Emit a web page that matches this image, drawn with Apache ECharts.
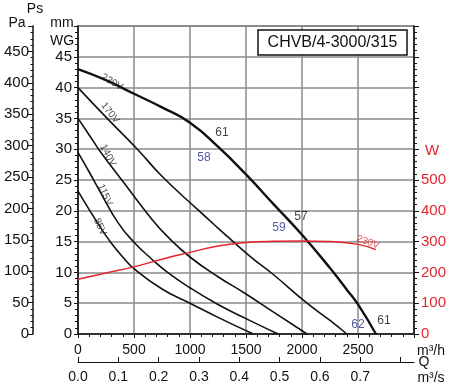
<!DOCTYPE html>
<html>
<head>
<meta charset="utf-8">
<script src="https://cdn.jsdelivr.net/npm/echarts@6/dist/echarts.min.js"></script>
<style>html,body{margin:0;padding:0;background:#fff}#c{width:450px;height:389px}</style>
</head>
<body>
<div id="c"></div>
<script>
// ---- data (flow in m3/h, static pressure in mm WG, power in W) ----
const flow230 = [0, 250, 500, 750, 1000, 1250, 1500, 1750, 2000, 2250, 2400, 2500, 2660];
const ps230   = [43, 41.2, 39, 36.8, 34.3, 30.4, 25.9, 21, 16.1, 10.7, 7.2, 4.8, 0];
const flow170 = [0, 250, 530, 750, 1062, 1250, 1536, 1741, 2045, 2250, 2400];
const ps170   = [40, 35.2, 30, 25.6, 20.3, 17.2, 12.6, 9.7, 5, 2.2, 0];
const flow140 = [0, 100, 200, 420, 661, 800, 1000, 1250, 1500, 1750, 2045];
const ps140   = [35, 32.3, 29.6, 24.3, 18.6, 15.8, 12.5, 9.3, 6.5, 3.5, 0];
const flow115 = [0, 100, 200, 360, 500, 650, 800, 1000, 1250, 1500, 1786];
const ps115   = [29.5, 26.3, 23, 18, 14.9, 12.3, 10, 7.5, 4.8, 2.5, 0];
const flow85  = [0, 100, 200, 300, 400, 500, 750, 1000, 1250, 1565];
const ps85    = [23.2, 20.2, 17.3, 14.7, 12.5, 10.6, 7.3, 5, 2.7, 0];
const flowPow = [0, 250, 500, 750, 1000, 1250, 1500, 1750, 2000, 2250, 2500, 2660];
const power   = [178, 198, 218, 243, 265, 286, 297, 301, 302, 300, 291, 274];

const flowTicks = [0, 500, 1000, 1500, 2000, 2500];
const voltLabels = ['230V', '170V', '140V', '115V', '85V'];
const noiseLabels = ['61', '58', '57', '59', '62', '61'];
const title = 'CHVB/4-3000/315';

// ---- chart ----
const FONT = '"Liberation Sans", Arial, sans-serif';
const zip = (a, b) => a.map((v, i) => [v, b[i]]);
const chart = echarts.init(document.getElementById('c'), null, {renderer: 'canvas'});

const G = {left: 78, right: 36, top: 26, bottom: 55};
const black = '#111';
const blue = '#2b2f8c';
const red = '#e3262e';

function ann(text, x, y, color, size, rot) {
  return {value: [x, y], name: text,
    label: {show: true, formatter: text, color: color, fontSize: size, fontFamily: FONT,
      rotate: rot || 0, position: 'inside'}};
}
function curve(data, width, color, yIdx) {
  return {type: 'line', yAxisIndex: yIdx || 0, data: data, smooth: 0.5,
    symbol: 'none', lineStyle: {color: color || black, width: width}};
}

const option = {
  animation: false,
  grid: {left: G.left, right: G.right, top: G.top, bottom: G.bottom, show: true,
    borderColor: '#222', borderWidth: 1.2, backgroundColor: 'transparent'},
  xAxis: [
    {type: 'value', min: 0, max: 3000, interval: 500, position: 'bottom',
      axisLine: {show: true, onZero: false, lineStyle: {color: black, width: 1.5}},
      axisTick: {show: true, length: 4, lineStyle: {color: black}},
      minorTick: {show: true, splitNumber: 5, length: 3, lineStyle: {color: black}},
      splitLine: {show: true, lineStyle: {color: '#8a8a8a', width: 1.5}},
      axisLabel: {color: black, fontSize: 14, fontFamily: FONT, margin: 9, showMaxLabel: false,
        formatter: v => flowTicks.includes(v) ? String(v) : ''}},
    {type: 'value', min: 0, max: 3000 / 3600, interval: 0.1, position: 'bottom', offset: 28,
      axisLine: {show: true, onZero: false, lineStyle: {color: black, width: 1.2}},
      axisTick: {show: true, inside: true, length: 5, lineStyle: {color: black}},
      splitLine: {show: false},
      axisLabel: {color: black, fontSize: 14, fontFamily: FONT, margin: 8, showMaxLabel: false,
        formatter: v => v < 0.75 ? v.toFixed(1) : ''}}
  ],
  yAxis: [
    {type: 'value', min: 0, max: 50, interval: 5, position: 'left',
      axisLine: {show: true, onZero: false, lineStyle: {color: black, width: 1.5}},
      axisTick: {show: true, length: 4, lineStyle: {color: black}},
      minorTick: {show: true, splitNumber: 5, length: 3, lineStyle: {color: black}},
      splitLine: {show: true, lineStyle: {color: '#8a8a8a', width: 1.5}},
      axisLabel: {color: black, fontSize: 15, fontFamily: FONT, margin: 6, showMaxLabel: false}},
    {type: 'value', min: 0, max: 490.5, interval: 50, position: 'left', offset: 45,
      axisLine: {show: true, onZero: false, lineStyle: {color: black, width: 1.5}},
      axisTick: {show: true, length: 5, lineStyle: {color: black}},
      minorTick: {show: true, splitNumber: 5, length: 2.5, lineStyle: {color: black}},
      splitLine: {show: false},
      axisLabel: {color: black, fontSize: 15, fontFamily: FONT, margin: 4, showMaxLabel: false}},
    {type: 'value', min: 0, max: 1000, interval: 100, position: 'right',
      axisLine: {show: true, onZero: false, lineStyle: {color: black, width: 1.5}},
      axisTick: {show: true, length: 5, lineStyle: {color: black}},
      minorTick: {show: true, splitNumber: 5, length: 3, lineStyle: {color: black}},
      splitLine: {show: false},
      axisLabel: {color: red, fontSize: 15, fontFamily: FONT, margin: 7,
        formatter: v => v <= 500 ? String(v) : ''}}
  ],
  series: [
    curve(zip(flow230, ps230), 2.4),
    curve(zip(flow170, ps170), 1.6),
    curve(zip(flow140, ps140), 1.6),
    curve(zip(flow115, ps115), 1.6),
    curve(zip(flow85, ps85), 1.6),
    curve(zip(flowPow, power), 1.5, red, 2),
    {type: 'scatter', symbolSize: 0, silent: true, z: 5,
      data: [
        ann(voltLabels[0], 304, 40.9, '#222', 10, -30),
        ann(voltLabels[1], 286, 35.9, '#222', 10, -52),
        ann(voltLabels[2], 268, 29.0, '#222', 10, -62),
        ann(voltLabels[3], 241, 22.6, '#222', 10, -65),
        ann(voltLabels[4], 196, 17.4, '#222', 10, -65),
        ann(noiseLabels[0], 1286, 32.6, black, 12),
        ann(noiseLabels[1], 1125, 28.7, blue, 12),
        ann(noiseLabels[2], 1991, 19.0, black, 12),
        ann(noiseLabels[3], 1795, 17.2, blue, 12),
        ann(noiseLabels[4], 2500, 1.5, blue, 12),
        ann(noiseLabels[5], 2732, 2.1, black, 12)
      ]},
    {type: 'scatter', symbolSize: 0, silent: true, z: 5, yAxisIndex: 2,
      data: [ann(voltLabels[0], 2589, 298, red, 10, -20)]}
  ],
  graphic: [
    {type: 'rect', shape: {x: 258, y: 30, width: 149, height: 25},
      style: {fill: '#fff', stroke: '#111', lineWidth: 1.5}, z: 10},
    {type: 'text', x: 332.5, y: 42.5, z: 11,
      style: {text: title, fill: '#111', font: '16px ' + FONT, align: 'center', verticalAlign: 'middle'}},
    {type: 'text', x: 17, y: 23, style: {text: 'Pa', fill: black, font: '14px ' + FONT, align: 'center', verticalAlign: 'middle'}},
    {type: 'text', x: 35, y: 9, style: {text: 'Ps', fill: black, font: '14px ' + FONT, align: 'center', verticalAlign: 'middle'}},
    {type: 'text', x: 62, y: 23, style: {text: 'mm', fill: black, font: '14px ' + FONT, align: 'center', verticalAlign: 'middle'}},
    {type: 'text', x: 62, y: 41, style: {text: 'WG', fill: black, font: '14px ' + FONT, align: 'center', verticalAlign: 'middle'}},
    {type: 'text', x: 432, y: 151, style: {text: 'W', fill: red, font: '15px ' + FONT, align: 'center', verticalAlign: 'middle'}},
    {type: 'text', x: 431, y: 351, style: {text: 'm³/h', fill: black, font: '14px ' + FONT, align: 'center', verticalAlign: 'middle'}},
    {type: 'text', x: 424, y: 362, style: {text: 'Q', fill: black, font: '14px ' + FONT, align: 'center', verticalAlign: 'middle'}},
    {type: 'text', x: 431, y: 378, style: {text: 'm³/s', fill: black, font: '14px ' + FONT, align: 'center', verticalAlign: 'middle'}}
  ]
};
chart.setOption(option);
</script>
</body>
</html>
